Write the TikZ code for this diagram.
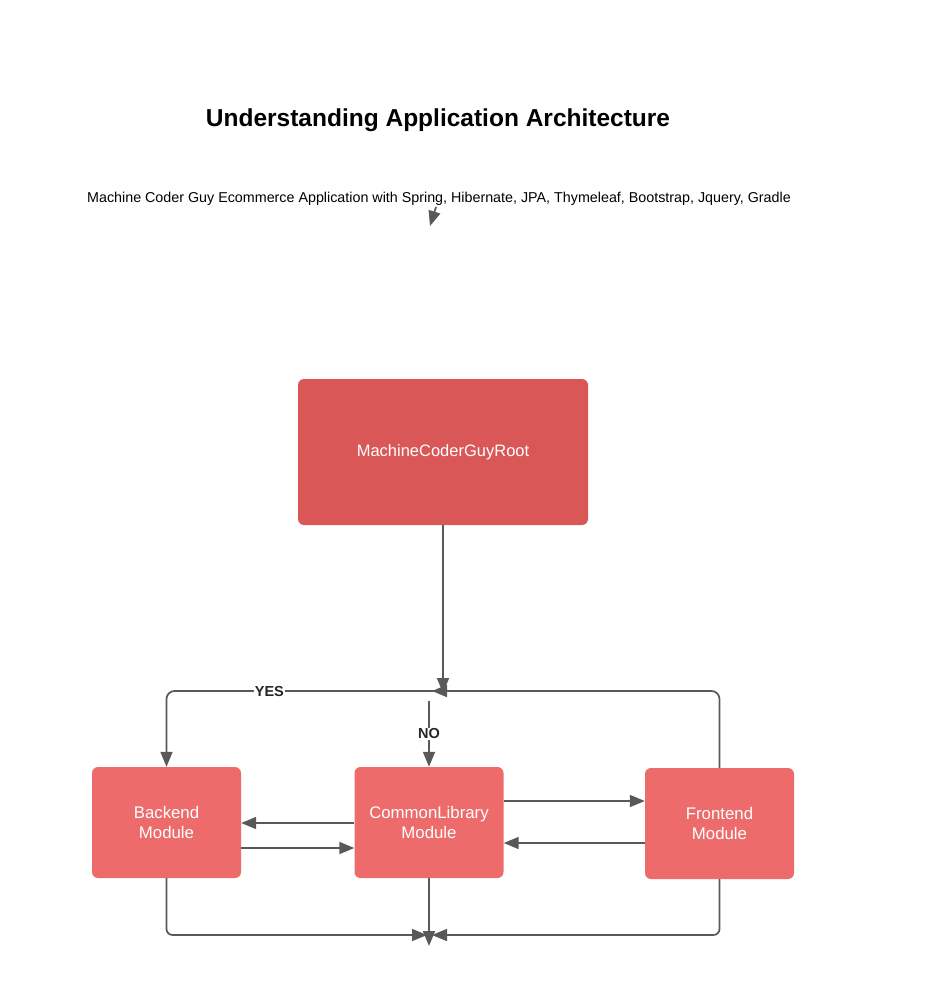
\documentclass[tikz,border=0pt]{standalone}
\usepackage{fontspec}
\setmainfont{Liberation Sans}
\usetikzlibrary{arrows.meta}
\definecolor{rootred}{HTML}{D95757}
\definecolor{modred}{HTML}{ED6B6B}
\definecolor{linegray}{HTML}{595959}
\tikzset{
  rootbox/.style={fill=rootred, rounded corners=6pt, minimum width=290pt, minimum height=146pt, text=white, font=\fontsize{16.5}{20}\selectfont, inner sep=0pt},
  modbox/.style={fill=modred, rounded corners=6pt, minimum width=149pt, minimum height=111pt, text=white, font=\fontsize{16.8}{20}\selectfont, align=center, inner sep=0pt},
  conn/.style={draw=linegray, line width=1.7pt, -{Triangle[length=15pt,width=12pt]}, color=linegray},
  lbl/.style={fill=white, text=black!85, font=\bfseries\fontsize{14.5}{16}\selectfont, inner sep=1pt}
}
\begin{document}
\begin{tikzpicture}[x=1pt,y=-1pt]
\useasboundingbox (0,0) rectangle (936,982);
\node[font=\bfseries\fontsize{24.5}{28}\selectfont] (title) at (438,120) {Understanding Application Architecture};
\node[font=\fontsize{14.3}{17}\selectfont, inner sep=0pt] (sub) at (439,199) {Machine Coder Guy Ecommerce Application with Spring, Hibernate, JPA, Thymeleaf, Bootstrap, Jquery, Gradle};
\coordinate (subend) at (430,226);
\draw[conn] (436,207) -- (subend);

\node[rootbox] (root) at (443,452) {MachineCoderGuyRoot};
\node[modbox] (back) at (166.5,822.5) {Backend\\Module};
\node[modbox] (common) at (429,822.5) {CommonLibrary\\Module};
\node[modbox] (front) at (719.5,823.5) {Frontend\\Module};

\coordinate (jroot) at (443,693);
\coordinate (jleft) at (432,691);
\coordinate (jyes) at (443,691);
\coordinate (nostart) at (429,701);
\coordinate (bl) at (427,935);
\coordinate (br) at (432,935);
\coordinate (bd) at (429,946);

\draw[conn] (root.south) -- (jroot);
\draw[conn, rounded corners=8pt] (front.north) |- (jleft);
\draw[conn, rounded corners=8pt] (jyes) -| node[lbl, pos=0.314] {YES} (back.north);
\draw[conn] (nostart) -- node[lbl] {NO} (common.north);

\draw[conn] (common.west |- 0,823) -- (back.east |- 0,823);
\draw[conn] (back.east |- 0,848) -- (common.west |- 0,848);
\draw[conn] (common.east |- 0,801) -- (front.west |- 0,801);
\draw[conn] (front.west |- 0,843) -- (common.east |- 0,843);

\draw[conn, rounded corners=6pt] (back.south) |- (bl);
\draw[conn, rounded corners=6pt] (front.south) |- (br);
\draw[conn] (common.south) -- (bd);
\end{tikzpicture}
\end{document}
